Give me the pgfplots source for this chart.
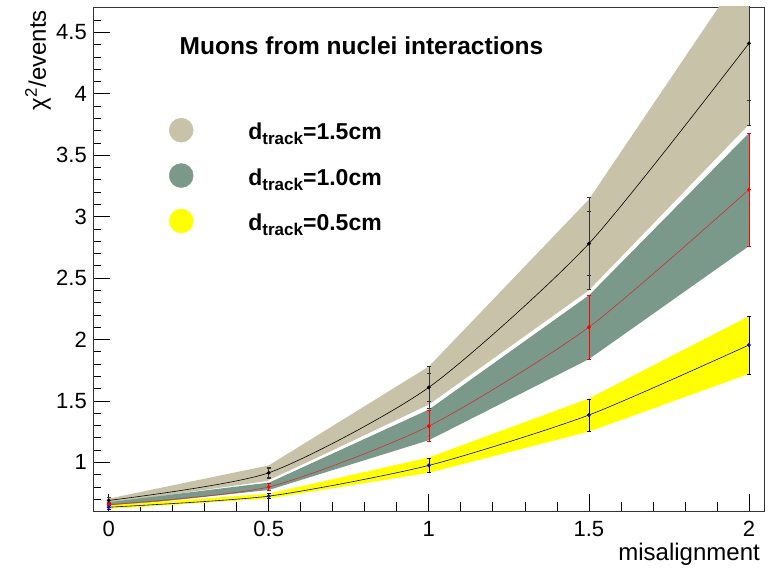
\documentclass[border=0pt]{standalone}
\usepackage{pgfplots}
\pgfplotsset{compat=1.18}
\usepackage{fontspec}
\setmainfont{Liberation Sans}
\definecolor{tanband}{RGB}{200,195,168}
\definecolor{greenband}{RGB}{122,153,138}
\definecolor{yel}{RGB}{255,255,0}
\definecolor{redline}{RGB}{200,50,50}
\begin{document}
\begin{tikzpicture}
\path[use as bounding box] (-93pt,-59pt) rectangle (681pt,511pt);
\begin{axis}[
  at={(0pt,0pt)}, anchor=south west,
  scale only axis, width=671pt, height=504pt,
  xmin=-0.049, xmax=2.047, ymin=0.604, ymax=4.706,
  xtick={0,0.5,1,1.5,2}, ytick={1,1.5,2,2.5,3,3.5,4,4.5},
  minor xtick={0.1,0.2,0.3,0.4,0.6,0.7,0.8,0.9,1.1,1.2,1.3,1.4,1.6,1.7,1.8,1.9},
  minor ytick={0.7,0.8,0.9,1.1,1.2,1.3,1.4,1.6,1.7,1.8,1.9,2.1,2.2,2.3,2.4,2.6,2.7,2.8,2.9,3.1,3.2,3.3,3.4,3.6,3.7,3.8,3.9,4.1,4.2,4.3,4.4,4.6},
  tick align=inside, tick pos=left,
  major tick length=17pt, minor tick length=8.5pt,
  every tick/.style={black, line width=0.7pt},
  axis line style={black!80, line width=0.8pt},
  /pgf/number format/assume math mode=true,
  ticklabel style={font=\fontsize{22}{22}\selectfont},
  xticklabel style={anchor=base, inner sep=0pt, yshift=-26pt},
  yticklabel style={anchor=east, inner sep=0pt, xshift=-6pt},
  legend style={at={(rel axis cs:0.1133,0.7798)}, anchor=north west, draw=none, fill=none,
    inner sep=0pt, outer sep=0pt, row sep=21pt,
    nodes={inner sep=0pt, font=\fontsize{23}{23}\selectfont\bfseries},
    /tikz/every odd column/.style={column sep=0pt}},
  legend cell align=left,
  clip=true,
]
\addlegendimage{legend image code/.code={\fill[tanband] (0pt,2pt) circle (12pt); \path (-12pt,-10pt) (67pt,14pt);}}
\addlegendentry{d\raisebox{-5pt}{\fontsize{17}{17}\selectfont track}=1.5cm}
\addlegendimage{legend image code/.code={\fill[greenband] (0pt,2pt) circle (12pt); \path (-12pt,-10pt) (67pt,14pt);}}
\addlegendentry{d\raisebox{-5pt}{\fontsize{17}{17}\selectfont track}=1.0cm}
\addlegendimage{legend image code/.code={\fill[yel] (0pt,2pt) circle (12pt); \path (-12pt,-10pt) (67pt,14pt);}}
\addlegendentry{d\raisebox{-5pt}{\fontsize{17}{17}\selectfont track}=0.5cm}

% bands
\addplot[fill=tanband, draw=none, forget plot] coordinates {
 (0,0.665) (0.5,0.85) (1,1.47) (1.5,2.40) (2,3.75)
 (2,5.07) (1.5,3.14) (1,1.78) (0.5,0.975) (0,0.705)} -- cycle;
\addplot[fill=greenband, draw=none, forget plot] coordinates {
 (0,0.635) (0.5,0.775) (1,1.18) (1.5,1.84) (2,2.76)
 (2,3.68) (1.5,2.36) (1,1.43) (0.5,0.835) (0,0.675)} -- cycle;
\addplot[white, line width=2.2pt, forget plot] coordinates {
 (0.5,0.845) (1,1.445) (1.5,2.375) (2,3.70)};
\addplot[fill=yel, draw=none, forget plot] coordinates {
 (0,0.62) (0.5,0.705) (1,0.915) (1.5,1.25) (2,1.72)
 (2,2.19) (1.5,1.52) (1,1.04) (0.5,0.745) (0,0.65)} -- cycle;

% black series (1.5 cm)
\addplot[black, line width=0.6pt, smooth, tension=0.4, mark=*, mark size=1.6pt, forget plot,
  error bars/.cd, y dir=both, y explicit,
  error bar style={black!80, line width=0.6pt}, error mark options={black!80, line width=0.6pt, mark size=2pt, rotate=90}]
 table[x=x, y=y, y error=e] {
 x y e
 0 0.69 0.025
 0.5 0.915 0.045
 1 1.61 0.17
 1.5 2.78 0.375
 2 4.41 0.67
};
\addplot[draw=none, forget plot,
  error bars/.cd, y dir=both, y explicit,
  error bar style={black!80, line width=0.6pt}, error mark options={black!80, line width=0.6pt, mark size=2pt, rotate=90}]
 table[x=x, y=y, y error=e] {
 x y e
 0.5 0.915 0.035
 1 1.61 0.115
 1.5 2.78 0.26
 2 4.41 0.46
};
% red series (1.0 cm)
\addplot[redline, line width=0.6pt, smooth, tension=0.4, mark=*, mark options={red}, mark size=1.6pt, forget plot,
  error bars/.cd, y dir=both, y explicit,
  error bar style={red, line width=0.6pt}, error mark options={red, line width=0.6pt, mark size=2pt, rotate=90}]
 table[x=x, y=y, y error=e] {
 x y e
 0 0.655 0.02
 0.5 0.80 0.03
 1 1.295 0.125
 1.5 2.10 0.26
 2 3.22 0.46
};
% blue series (0.5 cm)
\addplot[blue!70!black, line width=0.6pt, smooth, tension=0.4, mark=*, mark options={blue}, mark size=1.6pt, forget plot,
  error bars/.cd, y dir=both, y explicit,
  error bar style={blue!60!black, line width=0.6pt}, error mark options={blue!60!black, line width=0.6pt, mark size=2pt, rotate=90}]
 table[x=x, y=y, y error=e] {
 x y e
 0 0.635 0.015
 0.5 0.725 0.02
 1 0.975 0.06
 1.5 1.385 0.13
 2 1.955 0.235
};

\node[anchor=base, font=\fontsize{24.5}{24.5}\selectfont\bfseries] at (rel axis cs:0.400,0.9048) {Muons from nuclei interactions};
\end{axis}
\node[anchor=base east, inner sep=0pt, font=\fontsize{24}{24}\selectfont] at ([xshift=-4pt, yshift=-50pt]current axis.south east) {misalignment};
\node[rotate=90, anchor=base east, inner sep=0pt, font=\fontsize{24}{24}\selectfont] at ([xshift=-47pt, yshift=-3pt]current axis.north west) {χ\textsuperscript{2}/events};
\end{tikzpicture}
\end{document}
